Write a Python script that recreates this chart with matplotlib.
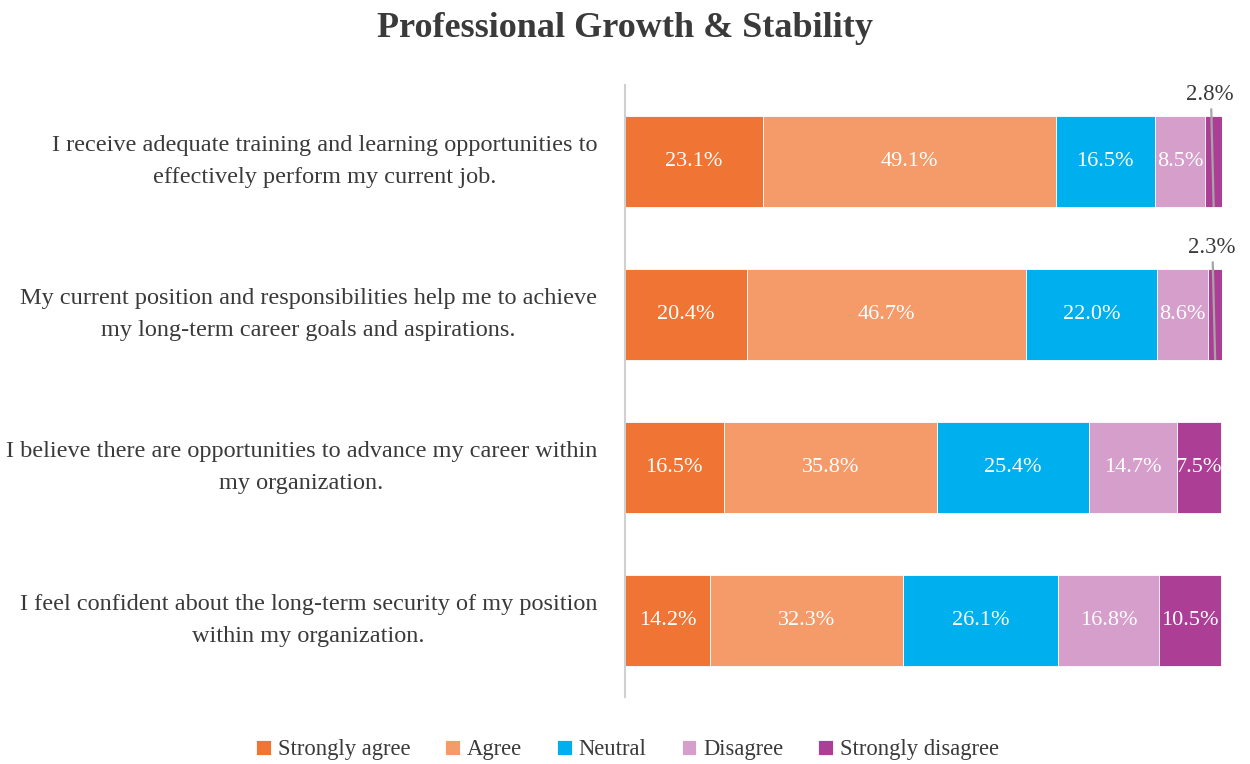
import matplotlib
matplotlib.use("Agg")
import matplotlib.pyplot as plt
import numpy as np

plt.rcParams['font.family'] = ['Liberation Serif', 'DejaVu Serif']

# data
questions = [
    "I receive adequate training and learning opportunities to\neffectively perform my current job.",
    "My current position and responsibilities help me to achieve\nmy long-term career goals and aspirations.",
    "I believe there are opportunities to advance my career within\nmy organization.",
    "I feel confident about the long-term security of my position\nwithin my organization.",
]
responses = ["Strongly agree", "Agree", "Neutral", "Disagree", "Strongly disagree"]
strongly_agree = [23.1, 20.4, 16.5, 14.2]
agree = [49.1, 46.7, 35.8, 32.3]
neutral = [16.5, 22.0, 25.4, 26.1]
disagree = [8.5, 8.6, 14.7, 16.8]
strongly_disagree = [2.8, 2.3, 7.5, 10.5]

colors = ["#F07534", "#F59B6A", "#00B0EE", "#D59ECB", "#AC3E96"]
text_col = "#3A3A3A"

series = [strongly_agree, agree, neutral, disagree, strongly_disagree]

fig = plt.figure(figsize=(12.5, 7.64), dpi=100)
ax = fig.add_axes([0.5, 0.0877, 0.4776, 0.801])

y = np.arange(len(questions))
left = np.zeros(len(questions))
for vals, name, c in zip(series, responses, colors):
    vals = np.array(vals)
    ax.barh(y, vals, left=left, height=0.59, color=c, label=name, edgecolor="white", linewidth=0.6)
    for i, v in enumerate(vals):
        if v >= 5:
            ax.text(left[i] + v / 2, y[i], f"{v:.1f}%", ha="center", va="center",
                    color="white", fontsize=16)
        else:
            cx = left[i] + v / 2
            ax.plot([cx - 0.4, cx], [y[i] - 0.34, y[i] + 0.29], color="#A6A6A6", lw=1.6,
                    clip_on=False, zorder=3)
            ax.text(cx - 0.6, y[i] - 0.37, f"{v:.1f}%", ha="center", va="bottom",
                    color=text_col, fontsize=16.5, clip_on=False)
    left += vals

ax.set_xlim(0, 100)
ax.set_ylim(3.5, -0.5)
ax.set_yticks(y)
ax.set_yticklabels(questions, fontsize=17.5, color=text_col, multialignment="center",
                   linespacing=1.7, va="center")
ax.tick_params(axis="y", length=0, pad=20)
ax.set_xticks([])
for s in ["top", "right", "bottom"]:
    ax.spines[s].set_visible(False)
ax.spines["left"].set_color("#D0D0D0")
ax.spines["left"].set_linewidth(1.5)

fig.suptitle("Professional Growth & Stability", fontsize=26, fontweight="bold",
             color=text_col, y=0.984)

fig.legend(loc="lower center", bbox_to_anchor=(0.502, -0.022), ncol=5, frameon=False,
           fontsize=16.3, handlelength=0.65, handleheight=0.65, handletextpad=0.3,
           columnspacing=1.55, labelcolor=text_col)

fig.savefig("out.png", dpi=100)
